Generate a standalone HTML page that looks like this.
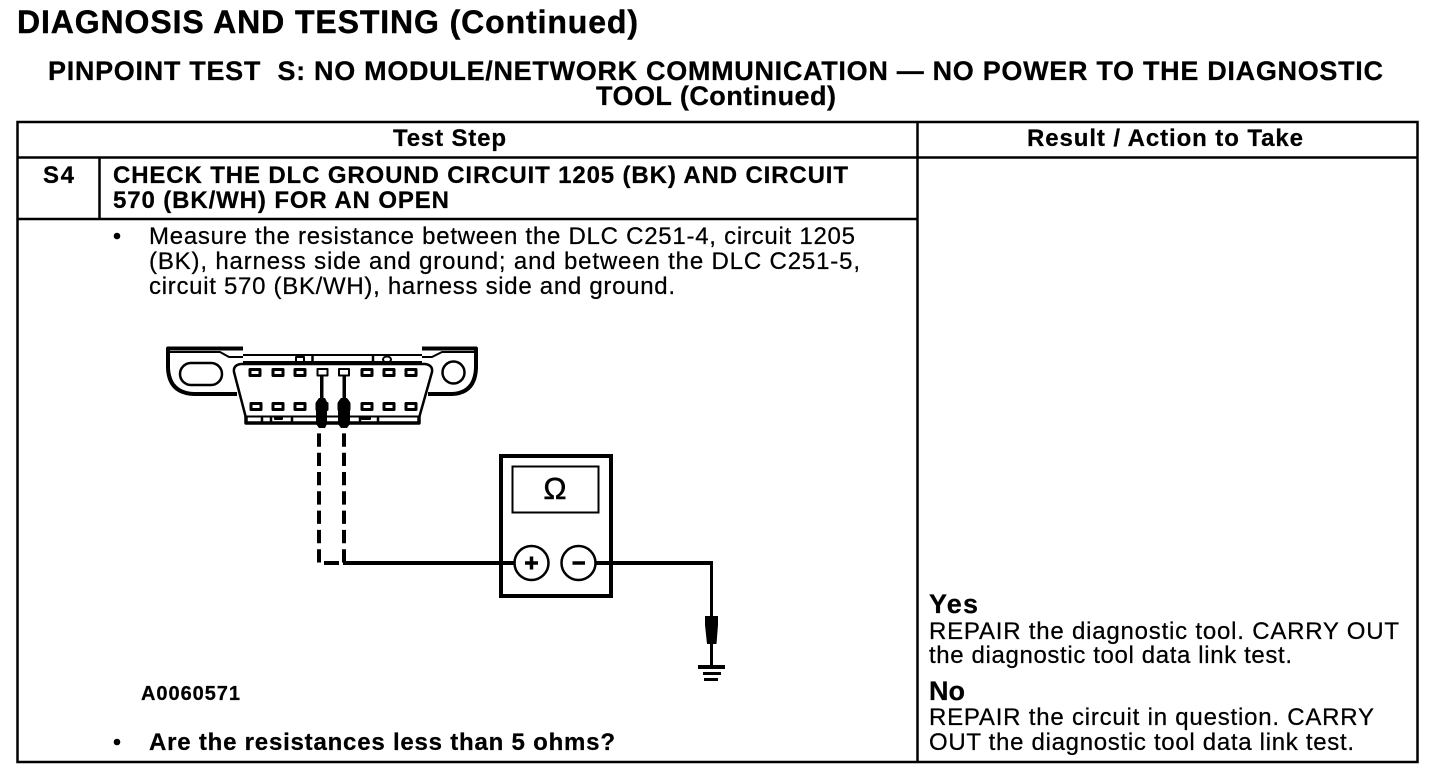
<!DOCTYPE html>
<html>
<head>
<meta charset="utf-8">
<style>
html,body{margin:0;padding:0;background:#fff;width:1456px;height:776px;overflow:hidden}
svg{display:block}
text{font-family:"Liberation Sans",Arial,sans-serif;fill:#000;stroke:#000;stroke-width:.25}
.b{font-weight:bold}
</style>
</head>
<body>
<svg width="1456" height="776" viewBox="0 0 1456 776" xmlns="http://www.w3.org/2000/svg">
<rect width="1456" height="776" fill="#fff"/>

<!-- Headings -->
<text class="b" x="17" y="33" font-size="32" textLength="621" style="stroke-width:.4">DIAGNOSIS AND TESTING (Continued)</text>
<text class="b" x="48" y="80" font-size="27" textLength="1335" xml:space="preserve">PINPOINT TEST  S: NO MODULE/NETWORK COMMUNICATION — NO POWER TO THE DIAGNOSTIC</text>
<text class="b" x="596" y="105" font-size="27" textLength="240">TOOL (Continued)</text>

<!-- Table -->
<g fill="none" stroke="#000" stroke-width="2.5">
<rect x="17.5" y="122" width="1400" height="640"/>
<path d="M18 157.5H1417M917.5 122V762M18 219H917M99.5 157V219"/>
</g>

<text class="b" x="393" y="146" font-size="24" textLength="113">Test Step</text>
<text class="b" x="1027" y="146" font-size="24" textLength="276">Result / Action to Take</text>
<text class="b" x="43" y="183" font-size="24" textLength="31">S4</text>
<text class="b" x="113" y="183" font-size="24" textLength="735">CHECK THE DLC GROUND CIRCUIT 1205 (BK) AND CIRCUIT</text>
<text class="b" x="113" y="208" font-size="24" textLength="336">570 (BK/WH) FOR AN OPEN</text>

<circle cx="117" cy="236" r="3.3" fill="#000"/>
<text x="149" y="244" font-size="24" textLength="706">Measure the resistance between the DLC C251-4, circuit 1205</text>
<text x="149" y="269" font-size="24" textLength="711">(BK), harness side and ground; and between the DLC C251-5,</text>
<text x="149" y="294" font-size="24" textLength="526">circuit 570 (BK/WH), harness side and ground.</text>

<text class="b" x="141" y="700" font-size="20" textLength="99">A0060571</text>
<circle cx="117" cy="742" r="3.3" fill="#000"/>
<text class="b" x="149" y="750" font-size="24" textLength="466">Are the resistances less than 5 ohms?</text>

<text class="b" x="929" y="613" font-size="27" textLength="49">Yes</text>
<text x="929" y="639" font-size="24" textLength="470">REPAIR the diagnostic tool. CARRY OUT</text>
<text x="929" y="663" font-size="24" textLength="363">the diagnostic tool data link test.</text>
<text class="b" x="929" y="700" font-size="27" textLength="36">No</text>
<text x="929" y="725" font-size="24" textLength="445">REPAIR the circuit in question. CARRY</text>
<text x="929" y="750" font-size="24" textLength="425">OUT the diagnostic tool data link test.</text>

<!-- DLC connector -->
<g fill="none" stroke="#000" stroke-linejoin="round">
<path d="M243 348.5H168V368Q169 393 194 394H237" stroke-width="4"/>
<path d="M422 348.5H476V368Q475 393 452 394H428" stroke-width="4"/>
<path d="M169 352H220L229 357H243M475 352H442L432 357H422" stroke-width="2"/>
<rect x="180" y="363" width="42" height="22" rx="11" stroke-width="2.5"/>
<circle cx="453.5" cy="372.5" r="11" stroke-width="2.5"/>
<path d="M243 355H422" stroke-width="2"/>
<path d="M243 362.5H422" stroke-width="3"/>
<path d="M312.5 354V362" stroke-width="2.5"/>
<path d="M373 354V362" stroke-width="2.5"/>
<rect x="296" y="357" width="8" height="5" stroke-width="2"/>
<ellipse cx="387" cy="359.5" rx="4" ry="3" stroke-width="2"/>
<path d="M241 364H425Q433 365 432 372L419 418" stroke-width="2.5"/>
<path d="M241 364Q233 365 234 372L246 418" stroke-width="2.5"/>
<path d="M246 416V423H419V416" stroke-width="3.5"/>
<path d="M246 416.5H419" stroke-width="2"/>
<path d="M262 416V423M271 416V423M292 416V423M360 416V423M378 416V423" stroke-width="2.5"/>
<rect x="275" y="417" width="7" height="2" stroke-width="2"/>
<rect x="362" y="417" width="8" height="2" stroke-width="2"/>
<g stroke-width="3">
<rect x="250" y="369.5" width="10" height="6"/>
<rect x="273" y="369.5" width="10" height="6"/>
<rect x="295" y="369.5" width="10" height="6"/>
<rect x="317.5" y="369" width="10" height="6.5" stroke-width="2"/>
<rect x="339" y="369" width="10" height="6.5" stroke-width="2"/>
<rect x="362" y="369.5" width="10" height="6"/>
<rect x="384" y="369.5" width="10" height="6"/>
<rect x="406" y="369.5" width="10" height="6"/>
<rect x="251" y="403.5" width="10" height="6"/>
<rect x="273" y="403.5" width="10" height="6"/>
<rect x="295" y="403.5" width="10" height="6"/>
<rect x="317" y="403.5" width="10" height="6"/>
<rect x="339" y="403.5" width="10" height="6"/>
<rect x="362" y="403.5" width="10" height="6"/>
<rect x="384" y="403.5" width="10" height="6"/>
<rect x="406" y="403.5" width="10" height="6"/>
</g>
</g>
<!-- Probes -->
<g fill="#000">
<rect x="320" y="376" width="3.5" height="23"/>
<rect x="342.5" y="376" width="3.5" height="23"/>
<path d="M319 398H325L327 402V424L325 428H319L316 424V402Z"/>
<path d="M341 398H347L350 402V424L347 428H341L338 424V402Z"/>
</g>

<!-- Wiring -->
<g fill="none" stroke="#000" stroke-width="4">
<path d="M319 433.4V562.7" stroke-dasharray="13.3 6"/>
<path d="M344 433.4V562.7" stroke-dasharray="13.3 6"/>
<path d="M324 563H339"/>
<path d="M343 563H514"/>
<path d="M596 563H711"/>
<path d="M711.5 561V617M711.5 644V666" stroke-width="3"/>
</g>

<!-- Meter -->
<rect x="501" y="456" width="110" height="140" fill="none" stroke="#000" stroke-width="4"/>
<rect x="512.5" y="466.5" width="86" height="46" fill="none" stroke="#000" stroke-width="2"/>
<text x="555" y="499" font-size="31" text-anchor="middle" style="stroke-width:.5">Ω</text>
<circle cx="531.5" cy="563" r="17" fill="#fff" stroke="#000" stroke-width="2.5"/>
<circle cx="578.5" cy="563" r="17" fill="#fff" stroke="#000" stroke-width="2.5"/>
<path d="M525 563H538M531.5 556.5V569.5M572.5 563H585" fill="none" stroke="#000" stroke-width="3.5"/>

<!-- Ground probe -->
<path d="M705 616H718V625L716.5 644H707L705 625Z" fill="#000"/>
<g fill="#000">
<rect x="698" y="665" width="27" height="4"/>
<rect x="703" y="672" width="18" height="3"/>
<rect x="704" y="678" width="14" height="3"/>
</g>
</svg>
</body>
</html>
